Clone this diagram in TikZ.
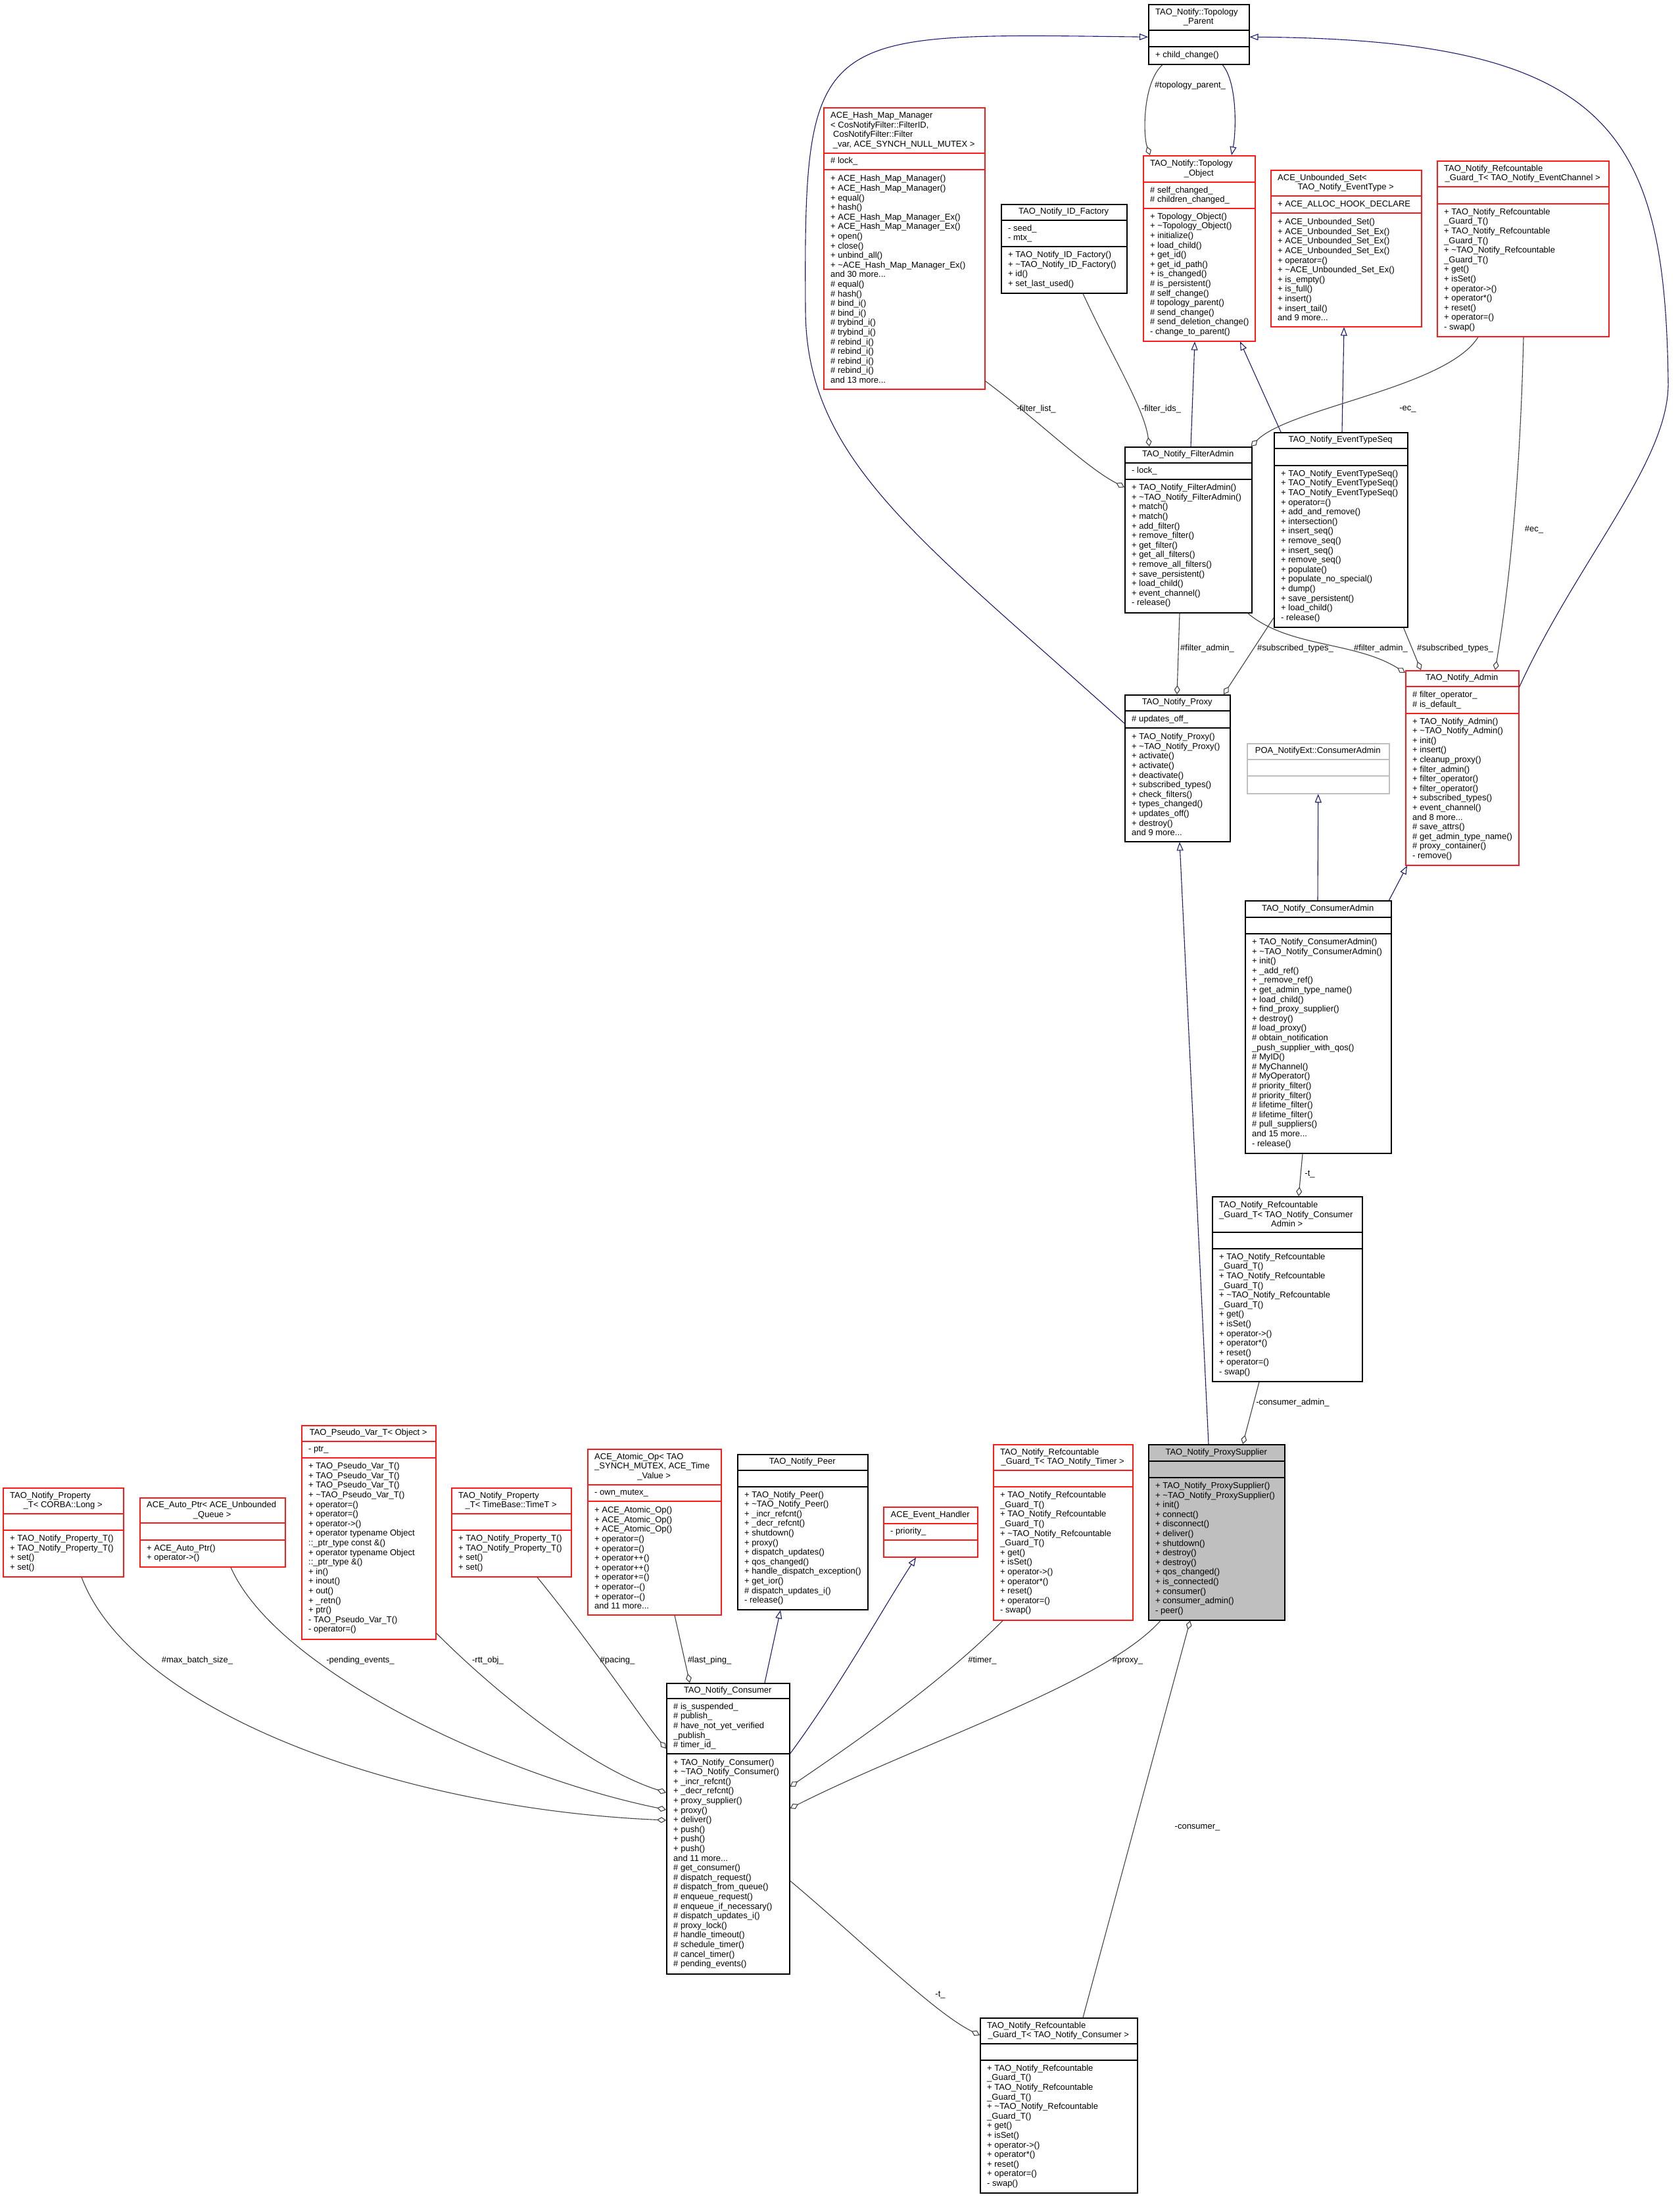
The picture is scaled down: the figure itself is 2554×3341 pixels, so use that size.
\documentclass[tikz,border=0pt]{standalone}
\usepackage{fontspec}
\setmainfont{Liberation Sans}
\usetikzlibrary{arrows.meta}

\definecolor{dxred}{HTML}{FF1A1A}
\definecolor{dxblue}{HTML}{191970}
\definecolor{dxgray}{HTML}{404040}
\definecolor{dxlight}{HTML}{BFBFBF}

\newcommand\dxfont{\fontsize{13}{14.6}\selectfont}
% class box: [style]{name}{x,y}{width}{title h}{attr h}{method h}{title lines}{last title line}
\newcommand\umlbox[9][blk]{%
  \node[cls,#1,minimum width=#4,minimum height=#5+#6+#7,anchor=north west] (#2) at (#3) {};
  \draw[cls,#1,fill=none] ([yshift=-#5pt]#2.north west) -- ([yshift=-#5pt]#2.north east)
    ([yshift=-#5pt-#6pt]#2.north west) -- ([yshift=-#5pt-#6pt]#2.north east);
  \coordinate (#2-a) at ([xshift=11pt,yshift=-#5pt-#6*0.5pt]#2.north west);
  \coordinate (#2-m) at ([xshift=11pt,yshift=-#5pt-#6pt-#7*0.5pt]#2.north west);
  \node[txt] (#2-t) at ([xshift=11pt,yshift=-#5*0.5pt]#2.north west)
    {#8\hbox to\dimexpr#4pt-22pt\relax{\hss#9\hss}};
}

\begin{document}
\begin{tikzpicture}[x=1pt,y=-1pt]
\tikzset{
  cls/.style={draw, fill=white, line width=1.5pt, inner sep=0pt},
  blk/.style={draw=black},
  redb/.style={draw=dxred},
  greyb/.style={draw=dxlight},
  focus/.style={draw=black, fill=dxlight},
  txt/.style={anchor=west, inner sep=0pt, align=left, font=\dxfont},
  lbl/.style={inner sep=0pt, font=\dxfont},
  inh/.style={draw=dxblue, line width=1.1pt, -{Triangle[open,length=13pt,width=10pt]}},
  agg/.style={draw=dxgray, line width=1.1pt, -{Diamond[open,length=14pt,width=9pt]}}
}
\path[use as bounding box, fill=white] (0,0) rectangle (2554,3341);

% top row
\umlbox{tp}{1746,6}{153}{40}{25}{26}{TAO\_Notify::Topology\\}{\_Parent}
\node[txt] (tp-ml) at (tp-m) {+ child\_change()};

\umlbox[redb]{to}{1738,236}{170}{41}{40}{201}{TAO\_Notify::Topology\\}{\_Object}
\node[txt] (to-al) at (to-a) {\# self\_changed\_\\\# children\_changed\_};
\node[txt] (to-ml) at (to-m) {+ Topology\_Object()\\+ \textasciitilde Topology\_Object()\\+ initialize()\\+ load\_child()\\+ get\_id()\\+ get\_id\_path()\\+ is\_changed()\\\# is\_persistent()\\\# self\_change()\\\# topology\_parent()\\\# send\_change()\\\# send\_deletion\_change()\\- change\_to\_parent()};

\umlbox[redb]{us}{1932,258}{229}{40}{26}{172}{ACE\_Unbounded\_Set<\\}{TAO\_Notify\_EventType >}
\node[txt] (us-al) at (us-a) {+ ACE\_ALLOC\_HOOK\_DECLARE};
\node[txt] (us-ml) at (us-m) {+ ACE\_Unbounded\_Set()\\+ ACE\_Unbounded\_Set\_Ex()\\+ ACE\_Unbounded\_Set\_Ex()\\+ ACE\_Unbounded\_Set\_Ex()\\+ operator=()\\+ \textasciitilde ACE\_Unbounded\_Set\_Ex()\\+ is\_empty()\\+ is\_full()\\+ insert()\\+ insert\_tail()\\and 9 more...};

\umlbox[redb]{rec}{2185,244}{261}{40}{26}{201}{TAO\_Notify\_Refcountable\\}{\_Guard\_T< TAO\_Notify\_EventChannel >}
\node[txt] (rec-ml) at (rec-m) {+ TAO\_Notify\_Refcountable\\\_Guard\_T()\\+ TAO\_Notify\_Refcountable\\\_Guard\_T()\\+ \textasciitilde TAO\_Notify\_Refcountable\\\_Guard\_T()\\+ get()\\+ isSet()\\+ operator->()\\+ operator*()\\+ reset()\\+ operator=()\\- swap()};

\umlbox[redb]{hm}{1252,163}{245}{70}{25}{333}{ACE\_Hash\_Map\_Manager\\< CosNotifyFilter::FilterID,\\\hspace{4pt}CosNotifyFilter::Filter\\}{\_var, ACE\_SYNCH\_NULL\_MUTEX >}
\node[txt] (hm-al) at (hm-a) {\# lock\_};
\node[txt] (hm-ml) at (hm-m) {+ ACE\_Hash\_Map\_Manager()\\+ ACE\_Hash\_Map\_Manager()\\+ equal()\\+ hash()\\+ ACE\_Hash\_Map\_Manager\_Ex()\\+ ACE\_Hash\_Map\_Manager\_Ex()\\+ open()\\+ close()\\+ unbind\_all()\\+ \textasciitilde ACE\_Hash\_Map\_Manager\_Ex()\\and 30 more...\\\# equal()\\\# hash()\\\# bind\_i()\\\# bind\_i()\\\# trybind\_i()\\\# trybind\_i()\\\# rebind\_i()\\\# rebind\_i()\\\# rebind\_i()\\\# rebind\_i()\\and 13 more...};

\umlbox{idf}{1522,310}{191}{25}{40}{70}{}{TAO\_Notify\_ID\_Factory}
\node[txt] (idf-al) at (idf-a) {- seed\_\\- mtx\_};
\node[txt] (idf-ml) at (idf-m) {+ TAO\_Notify\_ID\_Factory()\\+ \textasciitilde TAO\_Notify\_ID\_Factory()\\+ id()\\+ set\_last\_used()};

% middle
\umlbox{fa}{1710,679}{193}{25}{25}{202}{}{TAO\_Notify\_FilterAdmin}
\node[txt] (fa-al) at (fa-a) {- lock\_};
\node[txt] (fa-ml) at (fa-m) {+ TAO\_Notify\_FilterAdmin()\\+ \textasciitilde TAO\_Notify\_FilterAdmin()\\+ match()\\+ match()\\+ add\_filter()\\+ remove\_filter()\\+ get\_filter()\\+ get\_all\_filters()\\+ remove\_all\_filters()\\+ save\_persistent()\\+ load\_child()\\+ event\_channel()\\- release()};

\umlbox{ets}{1937,657}{203}{25}{26}{245}{}{TAO\_Notify\_EventTypeSeq}
\node[txt] (ets-ml) at (ets-m) {+ TAO\_Notify\_EventTypeSeq()\\+ TAO\_Notify\_EventTypeSeq()\\+ TAO\_Notify\_EventTypeSeq()\\+ operator=()\\+ add\_and\_remove()\\+ intersection()\\+ insert\_seq()\\+ remove\_seq()\\+ insert\_seq()\\+ remove\_seq()\\+ populate()\\+ populate\_no\_special()\\+ dump()\\+ save\_persistent()\\+ load\_child()\\- release()};

\umlbox{px}{1710,1056}{160}{25}{26}{172}{}{TAO\_Notify\_Proxy}
\node[txt] (px-al) at (px-a) {\# updates\_off\_};
\node[txt] (px-ml) at (px-m) {+ TAO\_Notify\_Proxy()\\+ \textasciitilde TAO\_Notify\_Proxy()\\+ activate()\\+ activate()\\+ deactivate()\\+ subscribed\_types()\\+ check\_filters()\\+ types\_changed()\\+ updates\_off()\\+ destroy()\\and 9 more...};

\umlbox[redb]{adm}{2137,1019}{172}{25}{41}{230}{}{TAO\_Notify\_Admin}
\node[txt] (adm-al) at (adm-a) {\# filter\_operator\_\\\# is\_default\_};
\node[txt] (adm-ml) at (adm-m) {+ TAO\_Notify\_Admin()\\+ \textasciitilde TAO\_Notify\_Admin()\\+ init()\\+ insert()\\+ cleanup\_proxy()\\+ filter\_admin()\\+ filter\_operator()\\+ filter\_operator()\\+ subscribed\_types()\\+ event\_channel()\\and 8 more...\\\# save\_attrs()\\\# get\_admin\_type\_name()\\\# proxy\_container()\\- remove()};

\umlbox[greyb]{poa}{1896,1130}{216}{25}{25}{26}{}{POA\_NotifyExt::ConsumerAdmin}

\umlbox{ca}{1893,1369}{222}{26}{25}{333}{}{TAO\_Notify\_ConsumerAdmin}
\node[txt] (ca-ml) at (ca-m) {+ TAO\_Notify\_ConsumerAdmin()\\+ \textasciitilde TAO\_Notify\_ConsumerAdmin()\\+ init()\\+ \_add\_ref()\\+ \_remove\_ref()\\+ get\_admin\_type\_name()\\+ load\_child()\\+ find\_proxy\_supplier()\\+ destroy()\\\# load\_proxy()\\\# obtain\_notification\\\_push\_supplier\_with\_qos()\\\# MyID()\\\# MyChannel()\\\# MyOperator()\\\# priority\_filter()\\\# priority\_filter()\\\# lifetime\_filter()\\\# lifetime\_filter()\\\# pull\_suppliers()\\and 15 more...\\- release()};

\umlbox{rca}{1843,1819}{228}{55}{25}{201}{TAO\_Notify\_Refcountable\\\_Guard\_T< TAO\_Notify\_Consumer\\}{Admin >}
\node[txt] (rca-ml) at (rca-m) {+ TAO\_Notify\_Refcountable\\\_Guard\_T()\\+ TAO\_Notify\_Refcountable\\\_Guard\_T()\\+ \textasciitilde TAO\_Notify\_Refcountable\\\_Guard\_T()\\+ get()\\+ isSet()\\+ operator->()\\+ operator*()\\+ reset()\\+ operator=()\\- swap()};

\umlbox[focus]{ps}{1746,2196}{207}{26}{25}{216}{}{TAO\_Notify\_ProxySupplier}
\node[txt] (ps-ml) at (ps-m) {+ TAO\_Notify\_ProxySupplier()\\+ \textasciitilde TAO\_Notify\_ProxySupplier()\\+ init()\\+ connect()\\+ disconnect()\\+ deliver()\\+ shutdown()\\+ destroy()\\+ destroy()\\+ qos\_changed()\\+ is\_connected()\\+ consumer()\\+ consumer\_admin()\\- peer()};

% bottom row
\umlbox[redb]{rtm}{1510,2196}{212}{40}{25}{202}{TAO\_Notify\_Refcountable\\}{\_Guard\_T< TAO\_Notify\_Timer >}
\node[txt] (rtm-ml) at (rtm-m) {+ TAO\_Notify\_Refcountable\\\_Guard\_T()\\+ TAO\_Notify\_Refcountable\\\_Guard\_T()\\+ \textasciitilde TAO\_Notify\_Refcountable\\\_Guard\_T()\\+ get()\\+ isSet()\\+ operator->()\\+ operator*()\\+ reset()\\+ operator=()\\- swap()};

\umlbox[redb]{pl}{4,2262}{183}{40}{25}{70}{TAO\_Notify\_Property\\}{\_T< CORBA::Long >}
\node[txt] (pl-ml) at (pl-m) {+ TAO\_Notify\_Property\_T()\\+ TAO\_Notify\_Property\_T()\\+ set()\\+ set()};

\umlbox[redb]{ap}{212,2277}{221}{39}{26}{40}{ACE\_Auto\_Ptr< ACE\_Unbounded\\}{\_Queue >}
\node[txt] (ap-ml) at (ap-m) {+ ACE\_Auto\_Ptr()\\+ operator->()};

\umlbox[redb]{pv}{458,2167}{204}{25}{25}{275}{}{TAO\_Pseudo\_Var\_T< Object >}
\node[txt] (pv-al) at (pv-a) {- ptr\_};
\node[txt] (pv-ml) at (pv-m) {+ TAO\_Pseudo\_Var\_T()\\+ TAO\_Pseudo\_Var\_T()\\+ TAO\_Pseudo\_Var\_T()\\+ \textasciitilde TAO\_Pseudo\_Var\_T()\\+ operator=()\\+ operator=()\\+ operator->()\\+ operator typename Object\\::\_ptr\_type const \&()\\+ operator typename Object\\::\_ptr\_type \&()\\+ in()\\+ inout()\\+ out()\\+ \_retn()\\+ ptr()\\- TAO\_Pseudo\_Var\_T()\\- operator=()};

\umlbox[redb]{ptt}{686,2262}{182}{40}{25}{70}{TAO\_Notify\_Property\\}{\_T< TimeBase::TimeT >}
\node[txt] (ptt-ml) at (ptt-m) {+ TAO\_Notify\_Property\_T()\\+ TAO\_Notify\_Property\_T()\\+ set()\\+ set()};

\umlbox[redb]{ao}{893,2203}{203}{55}{25}{172}{ACE\_Atomic\_Op< TAO\\\_SYNCH\_MUTEX, ACE\_Time\\}{\_Value >}
\node[txt] (ao-al) at (ao-a) {- own\_mutex\_};
\node[txt] (ao-ml) at (ao-m) {+ ACE\_Atomic\_Op()\\+ ACE\_Atomic\_Op()\\+ ACE\_Atomic\_Op()\\+ operator=()\\+ operator=()\\+ operator++()\\+ operator++()\\+ operator+=()\\+ operator-{}-()\\+ operator-{}-()\\and 11 more...};

\umlbox{peer}{1121,2211}{198}{25}{25}{186}{}{TAO\_Notify\_Peer}
\node[txt] (peer-ml) at (peer-m) {+ TAO\_Notify\_Peer()\\+ \textasciitilde TAO\_Notify\_Peer()\\+ \_incr\_refcnt()\\+ \_decr\_refcnt()\\+ shutdown()\\+ proxy()\\+ dispatch\_updates()\\+ qos\_changed()\\+ handle\_dispatch\_exception()\\+ get\_ior()\\\# dispatch\_updates\_i()\\- release()};

\umlbox[redb]{eh}{1343,2291}{143}{26}{25}{25}{}{ACE\_Event\_Handler}
\node[txt] (eh-al) at (eh-a) {- priority\_};

\umlbox{con}{1013,2559}{187}{24}{84}{334}{}{TAO\_Notify\_Consumer}
\node[txt] (con-al) at (con-a) {\# is\_suspended\_\\\# publish\_\\\# have\_not\_yet\_verified\\\_publish\_\\\# timer\_id\_};
\node[txt] (con-ml) at (con-m) {+ TAO\_Notify\_Consumer()\\+ \textasciitilde TAO\_Notify\_Consumer()\\+ \_incr\_refcnt()\\+ \_decr\_refcnt()\\+ proxy\_supplier()\\+ proxy()\\+ deliver()\\+ push()\\+ push()\\+ push()\\and 11 more...\\\# get\_consumer()\\\# dispatch\_request()\\\# dispatch\_from\_queue()\\\# enqueue\_request()\\\# enqueue\_if\_necessary()\\\# dispatch\_updates\_i()\\\# proxy\_lock()\\\# handle\_timeout()\\\# schedule\_timer()\\\# cancel\_timer()\\\# pending\_events()};

\umlbox{rcn}{1490,3068}{239}{40}{25}{201}{TAO\_Notify\_Refcountable\\}{\_Guard\_T< TAO\_Notify\_Consumer >}
\node[txt] (rcn-ml) at (rcn-m) {+ TAO\_Notify\_Refcountable\\\_Guard\_T()\\+ TAO\_Notify\_Refcountable\\\_Guard\_T()\\+ \textasciitilde TAO\_Notify\_Refcountable\\\_Guard\_T()\\+ get()\\+ isSet()\\+ operator->()\\+ operator*()\\+ reset()\\+ operator=()\\- swap()};

% inheritance
\draw[inh] ([xshift=113pt]tp.south west) .. controls (1882,125) and (1880,200) .. ([xshift=135pt]to.north west);
\draw[inh] ([yshift=-44pt]px.north west) .. controls (1400,820) and (1225,700) .. (1225,470)
  .. controls (1222,40) and (1240,50) .. ([yshift=-4pt]tp.west);
\draw[inh] ([yshift=-26pt]adm.north east) .. controls (2400,850) and (2540,700) .. (2537,580)
  .. controls (2532,200) and (2450,60) .. ([yshift=-4pt]tp.east);
\draw[inh] ([xshift=101pt]fa.north west) -- ([xshift=79pt]to.south west);
\draw[inh] ([xshift=11pt]ets.north west) -- ([xshift=148pt]to.south west);
\draw[inh] ([xshift=104pt]ets.north west) -- ([xshift=112pt]us.south west);
\draw[inh] ([xshift=111pt]ca.north west) -- (poa.south);
\draw[inh] ([xshift=-4pt]ca.north east) -- ([xshift=3pt]adm.south west);
\draw[inh] ([xshift=92pt]ps.north west) -- ([xshift=84pt]px.south west);
\draw[inh] ([xshift=150pt]con.north west) -- ([xshift=66pt]peer.south west);
\draw[inh] ([yshift=-108pt]con.north east) .. controls (1280,2560) and (1340,2450) .. ([xshift=50pt]eh.south west);

% members
\draw[agg] ([xshift=22pt]tp.south west) .. controls (1738,125) and (1738,205) .. ([xshift=11pt]to.north west);
\node[lbl] (l-tpp) at (1810,130) {\#topology\_parent\_};
\draw[agg] ([yshift=13pt]hm.south east) .. controls (1580,640) and (1650,710) .. ([yshift=-62pt]fa.north west);
\node[lbl] (l-fl) at (1576,622) {-filter\_list\_};
\draw[agg] ([xshift=125pt]idf.south west) .. controls (1690,540) and (1740,620) .. ([xshift=38pt]fa.north west);
\node[lbl] (l-fid) at (1766,622) {-filter\_ids\_};
\draw[agg] ([xshift=63pt]rec.south west) .. controls (2200,590) and (1960,620) .. ([xshift=-2pt]fa.north east);
\node[lbl] (l-ec1) at (2141,622) {-ec\_};
\draw[agg] ([xshift=132pt]rec.south west) .. controls (2310,800) and (2285,950) .. ([xshift=137pt]adm.north west);
\node[lbl] (l-ec2) at (2333,805) {\#ec\_};
\draw[agg] ([xshift=84pt]fa.south west) -- ([xshift=80pt]px.north west);
\node[lbl] (l-fa1) at (1836,986) {\#filter\_admin\_};
\draw[agg] ([yshift=15pt]ets.south west) -- ([xshift=151pt]px.north west);
\node[lbl] (l-st1) at (1970,986) {\#subscribed\_types\_};
\draw[agg] ([xshift=-7pt]fa.south east) .. controls (1960,985) and (2060,975) .. ([yshift=-4pt]adm.north west);
\node[lbl] (l-fa2) at (2100,986) {\#filter\_admin\_};
\draw[agg] ([xshift=-7pt]ets.south east) -- ([xshift=24pt]adm.north west);
\node[lbl] (l-st2) at (2213,986) {\#subscribed\_types\_};
\draw[agg] ([xshift=88pt]ca.south west) -- ([xshift=132pt]rca.north west);
\node[lbl] (l-t1) at (1992,1786) {-t\_};
\draw[agg] ([xshift=72pt]rca.south west) -- ([xshift=144pt]ps.north west);
\node[lbl] (l-ca) at (1966,2133) {-consumer\_admin\_};

\draw[agg] ([xshift=120pt]pl.south west) .. controls (200,2600) and (600,2750) .. ([yshift=-209pt]con.north west);
\node[lbl] (l-mbs) at (300,2525) {\#max\_batch\_size\_};
\draw[agg] ([xshift=139pt]ap.south west) .. controls (420,2540) and (760,2700) .. ([yshift=-193pt]con.north west);
\node[lbl] (l-pe) at (548,2525) {-pending\_events\_};
\draw[agg] ([yshift=10pt]pv.south east) .. controls (760,2580) and (900,2690) .. ([yshift=-167pt]con.north west);
\node[lbl] (l-rtt) at (742,2525) {-rtt\_obj\_};
\draw[agg] ([xshift=131pt]ptt.south west) .. controls (900,2500) and (980,2620) .. ([yshift=-100pt]con.north west);
\node[lbl] (l-pac) at (939,2525) {\#pacing\_};
\draw[agg] ([xshift=133pt]ao.south west) -- ([xshift=36pt]con.north west);
\node[lbl] (l-lp) at (1079,2525) {\#last\_ping\_};
\draw[agg] ([xshift=15pt]rtm.south west) .. controls (1430,2560) and (1300,2650) .. ([yshift=-158pt]con.north east);
\node[lbl] (l-tim) at (1494,2525) {\#timer\_};
\draw[agg] ([xshift=19pt]ps.south west) .. controls (1680,2560) and (1400,2650) .. ([yshift=-191pt]con.north east);
\node[lbl] (l-prx) at (1715,2525) {\#proxy\_};
\draw[agg] ([xshift=157pt]rcn.north west) -- ([xshift=64pt]ps.south west);
\node[lbl] (l-cons) at (1821,2779) {-consumer\_};
\draw[agg] ([yshift=-301pt]con.north east) .. controls (1320,2960) and (1420,3060) .. ([yshift=-27pt]rcn.north west);
\node[lbl] (l-t2) at (1430,3034) {-t\_};
\end{tikzpicture}
\end{document}
